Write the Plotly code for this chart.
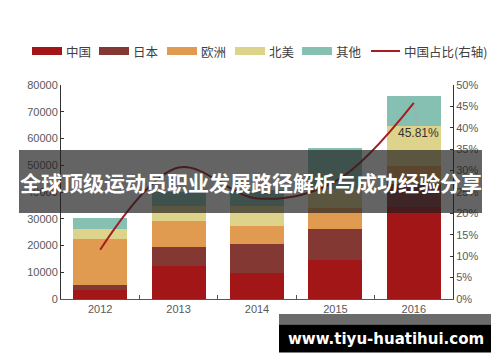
import plotly.graph_objects as go

# ---- data ----
years = ["2012", "2013", "2014", "2015", "2016"]
series_names = ["中国", "日本", "欧洲", "北美", "其他"]
china = [3400, 12300, 9700, 14700, 34500]
japan = [1900, 7100, 10700, 11300, 8600]
europe = [17300, 9800, 6900, 8000, 6500]
north_america = [3600, 5700, 7500, 7300, 14900]
others = [4200, 5200, 6000, 15100, 11300]
share_name = "中国占比(右轴)"
china_share = [0.115, 0.307, 0.235, 0.275, 0.4581]
share_label = "45.81%"
title_text = "全球顶级运动员职业发展路径解析与成功经验分享"
watermark = "www.tiyu-huatihui.com"

series_values = [china, japan, europe, north_america, others]
colors = ["#A31617", "#833834", "#E09B50", "#DDD38A", "#86C0B2"]
line_color = "#A31D22"

W, H = 500, 362
ML, MR, MT, MB = 61, 47, 85, 63
PW, PH = W - ML - MR, H - MT - MB


def px(x):
    return (x - ML) / PW


def py(y):
    return (H - MB - y) / PH


fig = go.Figure()
for name, vals, col in zip(series_names, series_values, colors):
    fig.add_trace(go.Bar(x=years, y=vals, name=name, marker_color=col,
                         marker_line_width=0, showlegend=False))

fig.add_trace(go.Scatter(x=years, y=china_share, name=share_name, yaxis="y2",
                         mode="lines", line=dict(color=line_color, width=2,
                                                 shape="spline", smoothing=1),
                         showlegend=False))

num_font = dict(family="Liberation Sans, Arial, sans-serif", size=11, color="#595959")
cjk = "Noto Sans CJK SC, sans-serif"

shapes = []
annotations = []

# manual legend
rect_x = [32, 99, 167, 235, 302]
for name, col, x0 in zip(series_names, colors, rect_x):
    shapes.append(dict(type="rect", xref="paper", yref="paper",
                       x0=px(x0), x1=px(x0 + 30), y0=py(55), y1=py(47),
                       fillcolor=col, line_width=0))
    annotations.append(dict(xref="paper", yref="paper", x=px(x0 + 32), y=py(51),
                            text=name, showarrow=False, xanchor="left", yanchor="middle",
                            font=dict(family=cjk, size=12.5, color="#404040")))
shapes.append(dict(type="line", xref="paper", yref="paper",
                   x0=px(371), x1=px(400), y0=py(51), y1=py(51),
                   line=dict(color=line_color, width=2)))
annotations.append(dict(xref="paper", yref="paper", x=px(402), y=py(51),
                        text=share_name, showarrow=False, xanchor="left", yanchor="middle",
                        font=dict(family=cjk, size=12.5, color="#404040")))

# data label (category index of last year)
annotations.append(dict(x=len(years) - 1, y=china_share[-1], xref="x", yref="y2",
                        text=share_label, showarrow=True, arrowhead=0, arrowwidth=1,
                        arrowcolor="#aaaaaa", ax=5, ay=30, standoff=2,
                        font=dict(family="Liberation Sans, Arial, sans-serif",
                                  size=12, color="#333333")))

# title band overlay
shapes.append(dict(type="rect", xref="paper", yref="paper", layer="above",
                   x0=px(19), x1=px(482), y0=py(213), y1=py(150),
                   fillcolor="rgba(30,30,30,0.69)", line_width=0))
annotations.append(dict(xref="paper", yref="paper", x=px(250.5), y=py(182),
                        text="<b>" + title_text + "</b>", showarrow=False,
                        xanchor="center", yanchor="middle",
                        font=dict(family=cjk, size=21, color="white")))

# watermark
shapes.append(dict(type="rect", xref="paper", yref="paper", layer="above",
                   x0=px(279), x1=px(491), y0=py(324.5), y1=py(314),
                   fillcolor="#6b6b6b", line_width=0))
shapes.append(dict(type="rect", xref="paper", yref="paper", layer="above",
                   x0=px(279), x1=px(491), y0=py(352.5), y1=py(324.5),
                   fillcolor="#000000", line_width=0))
annotations.append(dict(xref="paper", yref="paper", x=px(386), y=py(338.5),
                        text="<b>" + watermark + "</b>", showarrow=False,
                        xanchor="center", yanchor="middle",
                        font=dict(family="DejaVu Sans, sans-serif", size=15, color="white")))

fig.update_layout(
    width=W, height=H,
    margin=dict(l=ML, r=MR, t=MT, b=MB, pad=0, autoexpand=False),
    paper_bgcolor="white", plot_bgcolor="white",
    barmode="stack", bargap=0.31,
    showlegend=False,
    hovermode=False,
    xaxis=dict(type="category", range=[-0.5, len(years) - 0.5], automargin=False,
               showline=True, linecolor="#555555", linewidth=1,
               ticks="inside", tickson="boundaries", ticklen=4, tickcolor="#555555",
               tickfont=num_font, tickangle=0, showgrid=False),
    yaxis=dict(range=[0, 80000], dtick=10000, tickformat="d", showline=True,
               automargin=False,
               linecolor="#333333", linewidth=1, ticks="inside", ticklen=3,
               tickcolor="#333333", tickfont=num_font, showgrid=False, zeroline=False),
    yaxis2=dict(range=[0, 0.5], dtick=0.05, tickformat=".0%", overlaying="y",
                side="right", showline=True, linecolor="#333333", linewidth=1,
                automargin=False,
                ticks="inside", ticklen=3, tickcolor="#333333", tickfont=num_font,
                showgrid=False, zeroline=False),
    shapes=shapes,
    annotations=annotations,
)

fig.write_html("out.html",
               config={"displayModeBar": False, "staticPlot": True},
               post_script="document.body.style.margin='0';document.body.style.overflow='hidden';")
